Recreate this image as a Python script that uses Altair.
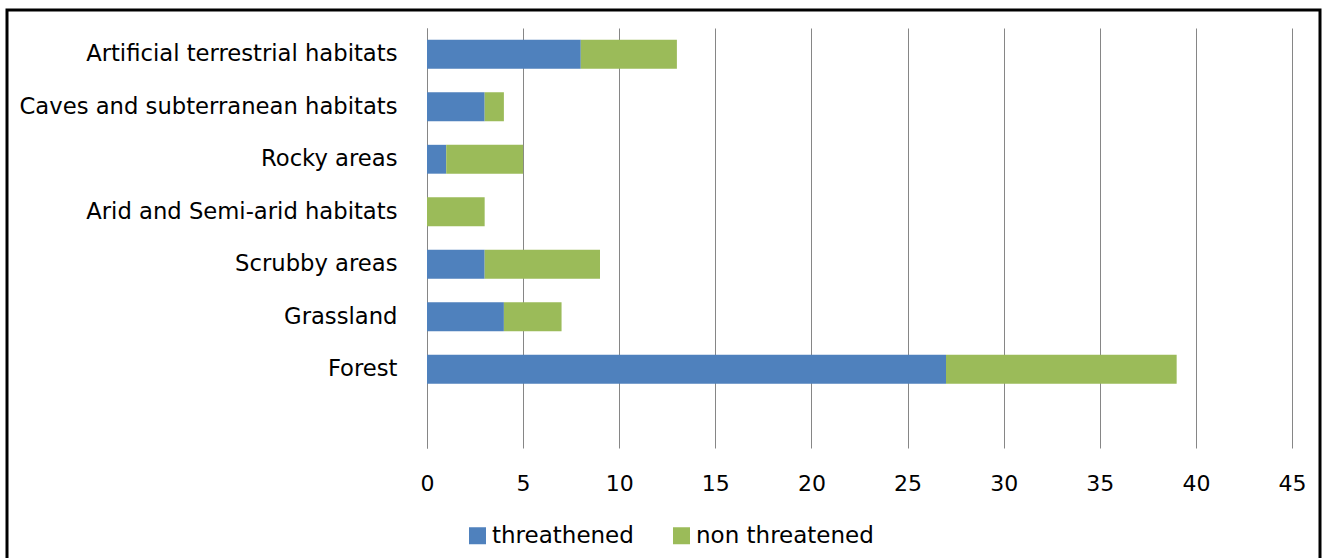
import altair as alt
import pandas as pd

categories = [
    "Artificial terrestrial habitats",
    "Caves and subterranean habitats",
    "Rocky areas",
    "Arid and Semi-arid habitats",
    "Scrubby areas",
    "Grassland",
    "Forest",
    " ",
]
threatened = [8, 3, 1, 0, 3, 4, 27]
non_threatened = [5, 1, 4, 3, 6, 3, 12]
series = ["threathened", "non threatened"]
colors = ["#4F81BD", "#9BBB59"]
x_ticks = [0, 5, 10, 15, 20, 25, 30, 35, 40, 45]

rows = []
for c, t, n in zip(categories, threatened, non_threatened):
    rows.append({"habitat": c, "status": series[0], "count": t, "ord": 0})
    rows.append({"habitat": c, "status": series[1], "count": n, "ord": 1})
df = pd.DataFrame(rows)

FONT = "DejaVu Sans"

bars = alt.Chart(df).mark_bar().encode(
    y=alt.Y("habitat:N", sort=categories,
            scale=alt.Scale(domain=categories, paddingInner=0.45, paddingOuter=0.225),
            axis=alt.Axis(title=None, ticks=False, domain=True, domainColor="#868686",
                          labelPadding=30, labelFontSize=22.7, labelFont=FONT,
                          labelLimit=500, labelColor="#000000", grid=False)),
    x=alt.X("count:Q", stack="zero",
            scale=alt.Scale(domain=[0, 45], nice=False),
            axis=alt.Axis(title=None, values=x_ticks, ticks=False, domain=False,
                          grid=True, gridColor="#868686", gridWidth=1,
                          labelFlush=False, labelOverlap=False,
                          labelPadding=25, labelFontSize=22, labelFont=FONT,
                          labelColor="#000000")),
    color=alt.Color("status:N", sort=series,
                    scale=alt.Scale(domain=series, range=colors),
                    legend=alt.Legend(title=None, orient="none", direction="horizontal",
                                      legendX=39, legendY=496, symbolType="square",
                                      symbolSize=289, symbolStrokeWidth=0, padding=0,
                                      labelFontSize=23, labelFont=FONT, labelColor="#000000",
                                      labelLimit=400, columnPadding=36, labelOffset=3)),
    order=alt.Order("ord:Q"),
)

border = alt.Chart(pd.DataFrame({"a": [0]})).mark_rect(
    fill=None, stroke="#000000", strokeWidth=3
).encode(
    x=alt.value(-420), x2=alt.value(893),
    y=alt.value(-18), y2=alt.value(560),
)

chart = alt.layer(bars, border).properties(
    width=865, height=420,
    padding={"left": 427, "top": 28, "right": 35, "bottom": 110},
    autosize=alt.AutoSizeParams(type="none"),
).configure_view(stroke=None)

chart.save("out.html", embed_options={"renderer": "svg", "actions": False})
